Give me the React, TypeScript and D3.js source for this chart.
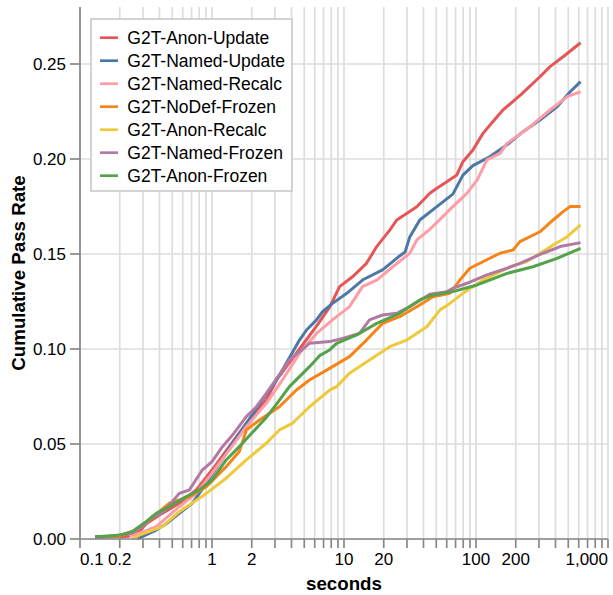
import React from "react";
import * as d3 from "d3";

const seriesNames = [
  "G2T-Anon-Update",
  "G2T-Named-Update",
  "G2T-Named-Recalc",
  "G2T-NoDef-Frozen",
  "G2T-Anon-Recalc",
  "G2T-Named-Frozen",
  "G2T-Anon-Frozen",
];
const seriesColors = ["#e45756", "#4c78a8", "#ff9da6", "#f58518", "#eeca3b", "#b279a2", "#54a24b"];

const anonUpdate: [number, number][] = [
  [0.13, 0.0008], [0.236, 0.0015], [0.28, 0.0038], [0.317, 0.008], [0.42, 0.0135], [0.565, 0.0188],
  [0.76, 0.0258], [1.0, 0.0363], [1.35, 0.0486], [1.82, 0.0609], [2.58, 0.0732], [3.08, 0.0837],
  [3.42, 0.088], [4.6, 0.1], [6.19, 0.112], [7.78, 0.122], [9.26, 0.1328], [11.6, 0.138],
  [14.8, 0.1451], [17.7, 0.1539], [22.2, 0.1626], [25.1, 0.1679], [35.6, 0.1749], [44.7, 0.182],
  [50.5, 0.1846], [60.1, 0.188], [71.6, 0.1916], [79.6, 0.1986], [94.7, 0.2047], [113, 0.2135],
  [134, 0.2196], [160, 0.2258], [220, 0.234], [305, 0.2433], [364, 0.2486], [457, 0.2538], [620, 0.2612],
];
const namedUpdate: [number, number][] = [
  [0.271, 0], [0.378, 0.0047], [0.45, 0.008], [0.565, 0.0135], [0.708, 0.0188], [0.906, 0.0293],
  [1.14, 0.0398], [1.43, 0.0504], [1.82, 0.0609], [2.41, 0.0732], [3.08, 0.0837], [3.42, 0.0889],
  [4.6, 0.1047], [5.2, 0.11], [6.19, 0.1153], [6.88, 0.1196], [8.19, 0.124], [10.5, 0.1293],
  [13.8, 0.1363], [19.6, 0.1416], [26.4, 0.149], [29, 0.151], [31.5, 0.159], [37.5, 0.1679],
  [50.5, 0.1749], [66.8, 0.1815], [79.6, 0.1915], [94.7, 0.1965], [127, 0.2012], [172, 0.2075],
  [227, 0.2144], [305, 0.2205], [411, 0.2275], [517, 0.2354], [620, 0.2407],
];
const namedRecalc: [number, number][] = [
  [0.236, 0.0015], [0.281, 0.003], [0.378, 0.0065], [0.565, 0.017], [0.76, 0.024], [1.0, 0.0346],
  [1.35, 0.0468], [1.82, 0.0591], [2.58, 0.0714], [3.42, 0.0837], [4.6, 0.0977], [6.19, 0.1082],
  [8.19, 0.1153], [11.0, 0.1223], [13.8, 0.1328], [17.7, 0.1363], [23.4, 0.1433], [31.5, 0.1504],
  [35.6, 0.1574], [44.7, 0.163], [66.8, 0.1749], [85.3, 0.1819], [102, 0.1889], [121, 0.1995],
  [152, 0.203], [172, 0.2082], [257, 0.217], [364, 0.2258], [491, 0.2328], [620, 0.2354],
];
const noDefFrozen: [number, number][] = [
  [0.13, 0.0012], [0.2, 0.0015], [0.25, 0.004], [0.334, 0.01], [0.474, 0.0188], [0.673, 0.0223],
  [0.906, 0.0275], [1.28, 0.038], [1.61, 0.046], [1.82, 0.0574], [2.29, 0.0626], [3.24, 0.0696],
  [4.36, 0.0784], [5.48, 0.0837], [7.78, 0.0898], [11.0, 0.096], [14.8, 0.1047], [19.6, 0.1135],
  [26.4, 0.117], [37.5, 0.1232], [47.1, 0.1275], [63.4, 0.1293], [75.5, 0.1363], [89.9, 0.1425],
  [152, 0.1504], [191, 0.1521], [215, 0.1565], [305, 0.1617], [384, 0.1679], [457, 0.1723],
  [517, 0.175], [620, 0.175],
];
const anonRecalc: [number, number][] = [
  [0.248, 0], [0.281, 0.002], [0.42, 0.0065], [0.565, 0.0144], [0.906, 0.024], [1.28, 0.032],
  [1.82, 0.0416], [2.58, 0.0504], [3.24, 0.0574], [4.07, 0.0609], [5.48, 0.0696], [7.78, 0.0784],
  [8.79, 0.0802], [11.0, 0.0872], [15.6, 0.0942], [22.2, 0.1012], [29.9, 0.1047], [42.4, 0.1117],
  [53.2, 0.1205], [63.4, 0.124], [79.6, 0.1293], [113, 0.1363], [181, 0.1433], [243, 0.146],
  [384, 0.1547], [491, 0.1591], [620, 0.1653],
];
const namedFrozen: [number, number][] = [
  [0.13, 0.0012], [0.166, 0.0015], [0.25, 0.003], [0.296, 0.0065], [0.352, 0.0117], [0.42, 0.0135],
  [0.565, 0.024], [0.673, 0.0258], [0.844, 0.0363], [1.0, 0.0407], [1.2, 0.0486], [1.43, 0.0547],
  [1.82, 0.0644], [2.17, 0.0696], [2.58, 0.0767], [3.86, 0.0942], [5.48, 0.103], [7.78, 0.1039],
  [9.76, 0.1056], [13.1, 0.1082], [15.6, 0.1153], [19.6, 0.1179], [25.1, 0.1188], [31.5, 0.1223],
  [44.7, 0.1288], [60.1, 0.1302], [66.8, 0.1319], [85.3, 0.1346], [121, 0.139], [172, 0.1425],
  [215, 0.1451], [322, 0.1504], [434, 0.1539], [620, 0.156],
];
const anonFrozen: [number, number][] = [
  [0.13, 0.0012], [0.2, 0.002], [0.25, 0.004], [0.317, 0.0091], [0.378, 0.0135], [0.474, 0.017],
  [0.638, 0.0223], [0.801, 0.0258], [1.0, 0.031], [1.28, 0.0416], [1.61, 0.0486], [2.02, 0.056],
  [2.58, 0.064], [3.08, 0.071], [3.86, 0.0802], [5.48, 0.0907], [6.53, 0.0965], [7.78, 0.0995],
  [8.79, 0.103], [12.5, 0.1074], [17.7, 0.1135], [26.4, 0.1188], [37.5, 0.1258], [44.7, 0.128],
  [66.8, 0.1302], [102, 0.1337], [172, 0.1398], [270, 0.1433], [411, 0.1477], [620, 0.153],
];

const seriesData = [anonUpdate, namedUpdate, namedRecalc, noDefFrozen, anonRecalc, namedFrozen, anonFrozen];

const xDomain: [number, number] = [0.1, 1000];
const yDomain: [number, number] = [0, 0.28];
const yTicks = [0, 0.05, 0.1, 0.15, 0.2, 0.25];
const xLabelTicks = [0.1, 0.2, 1, 2, 10, 20, 100, 200, 1000];

const W = 613;
const H = 595;
const M = { left: 80, right: 5, top: 7, bottom: 56 };
const FONT = "'Liberation Sans', Arial, Helvetica, sans-serif";

export default function App() {
  const x = d3.scaleLog().domain(xDomain).range([M.left, W - M.right]);
  const y = d3.scaleLinear().domain(yDomain).range([H - M.bottom, M.top]);
  const xTicks = x.ticks();
  const line = d3
    .line<[number, number]>()
    .x((d) => x(d[0]))
    .y((d) => y(d[1]));
  const fmtY = d3.format(".2f");
  const fmtX = d3.format(",");
  const x0 = M.left;
  const x1 = W - M.right;
  const y0 = H - M.bottom;
  const y1 = M.top;
  const gridColor = "#dddddd";
  const axisColor = "#888888";

  return (
    <svg
      width={W}
      height={H}
      style={{ position: "absolute", left: 0, top: 0, background: "#fff" }}
      fontFamily={FONT}
    >
      <rect x={0} y={0} width={W} height={H} fill="#fff" />
      <g>
        {xTicks.map((t, i) => (
          <line key={"gx" + i} x1={x(t)} x2={x(t)} y1={y0} y2={y1} stroke={gridColor} strokeWidth={1.7} />
        ))}
        {yTicks.map((t, i) => (
          <line key={"gy" + i} x1={x0} x2={x1} y1={y(t)} y2={y(t)} stroke={gridColor} strokeWidth={1.7} />
        ))}
      </g>
      <g fill="none" strokeWidth={3} strokeLinejoin="round" strokeLinecap="butt">
        {seriesData.map((d, i) => (
          <path key={"s" + i} d={line(d) || ""} stroke={seriesColors[i]} />
        ))}
      </g>
      <g>
        <line x1={x0} x2={x1} y1={y0} y2={y0} stroke={axisColor} strokeWidth={1.7} />
        {xTicks.map((t, i) => (
          <line key={"xt" + i} x1={x(t)} x2={x(t)} y1={y0} y2={y0 + 9} stroke={axisColor} strokeWidth={1.7} />
        ))}
        {xLabelTicks.map((t, i) => {
          const anchor = i === 0 ? "start" : i === xLabelTicks.length - 1 ? "end" : "middle";
          return (
            <text key={"xl" + i} x={x(t)} y={y0 + 26} fontSize={17} textAnchor={anchor} fill="#000">
              {fmtX(t)}
            </text>
          );
        })}
        <text x={(x0 + x1) / 2} y={590} fontSize={18.7} fontWeight="bold" textAnchor="middle" fill="#000">
          seconds
        </text>
      </g>
      <g>
        <line x1={x0} x2={x0} y1={y0} y2={y1} stroke={axisColor} strokeWidth={1.7} />
        {yTicks.map((t, i) => (
          <g key={"yt" + i}>
            <line x1={x0 - 10} x2={x0} y1={y(t)} y2={y(t)} stroke={axisColor} strokeWidth={1.7} />
            <text x={x0 - 14} y={y(t)} dy="0.35em" fontSize={17} textAnchor="end" fill="#000">
              {fmtY(t)}
            </text>
          </g>
        ))}
        <text
          transform={`translate(25,${(y0 + y1) / 2}) rotate(-90)`}
          fontSize={18.7}
          fontWeight="bold"
          textAnchor="middle"
          fill="#000"
        >
          Cumulative Pass Rate
        </text>
      </g>
      <g>
        <rect x={91} y={19} width={201} height={172} fill="#fff" stroke="#cccccc" strokeWidth={1.7} />
        {seriesNames.map((n, i) => {
          const cy = 37.7 + i * 23;
          return (
            <g key={"lg" + i}>
              <line x1={100} x2={118} y1={cy} y2={cy} stroke={seriesColors[i]} strokeWidth={2.7} />
              <text x={127.3} y={cy} dy="0.35em" fontSize={17.5} fill="#000">
                {n}
              </text>
            </g>
          );
        })}
      </g>
    </svg>
  );
}
